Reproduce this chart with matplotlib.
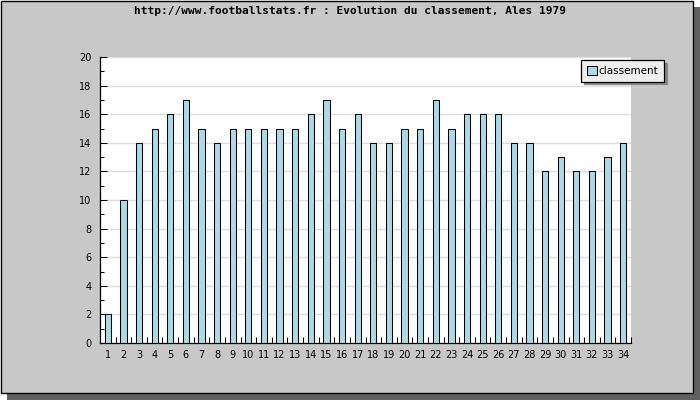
import matplotlib
matplotlib.use('Agg')
from matplotlib import pyplot as plt
from matplotlib.patches import Rectangle
from matplotlib.ticker import MultipleLocator, FixedLocator

# données du classement par journée
journees = list(range(1, 35))
classement = [2, 10, 14, 15, 16, 17, 15, 14, 15, 15, 15, 15, 15, 16, 17, 15, 16,
              14, 14, 15, 15, 17, 15, 16, 16, 16, 14, 14, 12, 13, 12, 12, 13, 14]
titre = 'http://www.footballstats.fr : Evolution du classement, Ales 1979'

W, H = 700, 400
fig = plt.figure(figsize=(7, 4), dpi=100)
fig.patch.set_facecolor('white')

# ombre + cadre
fig.add_artist(Rectangle((7 / W, 0), 1 - 7 / W, 1 - 7 / H, transform=fig.transFigure,
                         facecolor='#606060', edgecolor='none', zorder=-3))
fig.add_artist(Rectangle((0.5 / W, 7 / H), (692.5) / W, (392.5) / H, transform=fig.transFigure,
                         facecolor='#c8c8c8', edgecolor='black', linewidth=1, zorder=-2))

ax = fig.add_axes([100 / W, 1 - 343 / H, 531 / W, 286 / H])
ax.set_facecolor('white')
ax.bar(journees, classement, width=0.4, color='#add8e6', edgecolor='black',
       linewidth=0.75, label='classement', zorder=3)

ax.set_xlim(0.5, 34.5)
ax.set_ylim(0, 20)
ax.yaxis.set_major_locator(MultipleLocator(2))
ax.yaxis.set_minor_locator(MultipleLocator(1))
ax.set_xticks(journees)
ax.xaxis.set_minor_locator(FixedLocator([j + 0.5 for j in journees]))
ax.tick_params(axis='x', which='major', length=0, labelsize=7, pad=5)
ax.tick_params(axis='x', which='minor', direction='in', length=4, width=0.75)
ax.tick_params(axis='y', which='major', direction='in', length=5, width=0.75, labelsize=7, pad=6)
ax.tick_params(axis='y', which='minor', direction='in', length=3, width=0.75)
ax.grid(axis='y', color='#dddddd', linewidth=1, zorder=0)
for s in ['top', 'right']:
    ax.spines[s].set_visible(False)
for s in ['left', 'bottom']:
    ax.spines[s].set_linewidth(0.9)

leg = ax.legend(loc='upper right', bbox_to_anchor=(664 / W, 1 - 60 / H),
                bbox_transform=fig.transFigure, borderaxespad=0, fancybox=False,
                shadow={'color': '#888888', 'alpha': 1}, edgecolor='black',
                facecolor='#eeeeee', framealpha=1, fontsize=7.5,
                borderpad=0.55, handlelength=1.0, handleheight=1.0, handletextpad=0.15)
leg.get_frame().set_linewidth(0.9)

fig.text(0.5, 1 - 11 / H, titre, ha='center', va='center', fontsize=8,
         family='DejaVu Sans Mono', fontweight='bold')

plt.savefig('out.png', dpi=100)
